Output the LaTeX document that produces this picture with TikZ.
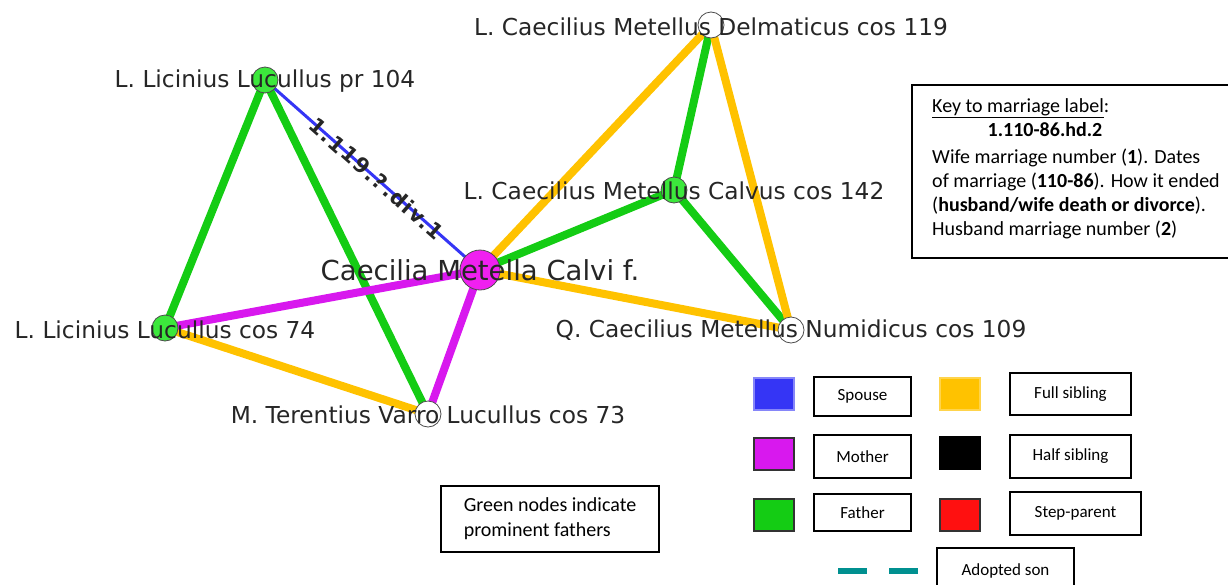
\documentclass[tikz,border=0pt]{standalone}
\usepackage{fontspec}
\setmainfont{Carlito}
\newfontfamily\netfont{DejaVu Sans}
\newfontfamily\marrfont[LetterSpace=8]{DejaVu Sans}
\definecolor{spouseblue}{HTML}{3535F5}
\definecolor{fathergreen}{HTML}{14CC14}
\definecolor{mothermag}{HTML}{D818EE}
\definecolor{sibyellow}{HTML}{FFC200}
\definecolor{nodegreen}{HTML}{3CE83C}
\definecolor{nodemag}{HTML}{F020F0}
\definecolor{stepred}{HTML}{FF1010}
\definecolor{adoptteal}{HTML}{009090}
\pgfdeclarelayer{edges}
\pgfsetlayers{edges,main}
\begin{document}
\begin{tikzpicture}[x=1pt,y=-1pt,
  person/.style={circle,draw=black!70,line width=0.8pt,minimum size=26pt,inner sep=0pt},
  prominent/.style={person,fill=nodegreen},
  plain/.style={person,fill=white},
  focus/.style={person,fill=nodemag,minimum size=40pt},
  namelab/.style={font=\netfont\fontsize{23.3}{28}\selectfont,text=black!85,inner sep=0pt},
  rel/.style={line width=8pt},
  father/.style={rel,draw=fathergreen},
  mother/.style={rel,draw=mothermag},
  sibling/.style={rel,draw=sibyellow},
  spouse/.style={line width=3pt,draw=spouseblue},
  keybox/.style={draw=black,line width=1.2pt,font=\fontsize{17}{20}\selectfont,inner sep=0pt},
  swatch/.style={minimum width=40pt,minimum height=32pt,inner sep=0pt,line width=1.2pt},
  keyline/.style={font=\fontsize{20}{24}\selectfont,inner sep=0pt}
]
\useasboundingbox (0,0) rectangle (1228,584);

% people
\node[plain]     (del) at (711,25)  {};
\node[prominent] (lpr) at (265,80)  {};
\node[prominent] (cal) at (674,190) {};
\node[focus]     (cm)  at (480,270) {};
\node[prominent] (lco) at (165,328) {};
\node[plain]     (num) at (791,330) {};
\node[plain]     (var) at (428,414) {};

% relationships, kept beneath the circles
\begin{pgfonlayer}{edges}
\draw[father]  (lpr.center) -- (lco.center);
\draw[father]  (lpr.center) -- (var.center);
\draw[sibling] (lco.center) -- (var.center);
\draw[mother]  (cm.center) -- (lco.center);
\draw[mother]  (cm.center) -- (var.center);
\draw[sibling] (cm.center) -- (del.center);
\draw[father]  (cm.center) -- (cal.center);
\draw[sibling] (cm.center) -- (num.center);
\draw[father]  (cal.center) -- (del.center);
\draw[father]  (cal.center) -- (num.center);
\draw[sibling] (del.center) -- (num.center);
\draw[spouse]  (lpr.center) -- (cm.center);
\end{pgfonlayer}
\path (lpr.center) -- node[sloped,pos=0.52,font=\marrfont\bfseries\fontsize{21}{24}\selectfont,inner sep=0pt,text=black!85] (mlab) {1.119.?.div.1} (cm.center);

% names
\node[namelab] (delL) at (711,27)  {L. Caecilius Metellus Delmaticus cos 119};
\node[namelab] (lprL) at (265,81)  {L. Licinius Lucullus pr 104};
\node[namelab] (calL) at (674,191) {L. Caecilius Metellus Calvus cos 142};
\node[namelab,font=\netfont\fontsize{27.5}{32}\selectfont] (cmL) at (480,270) {Caecilia Metella Calvi f.};
\node[namelab] (lcoL) at (165,330) {L. Licinius Lucullus cos 74};
\node[namelab] (numL) at (791,330) {Q. Caecilius Metellus Numidicus cos 109};
\node[namelab] (varL) at (428,415) {M. Terentius Varro Lucullus cos 73};

% key to marriage label
\draw[line width=1.2pt] (912,85) rectangle (1240,258);
\node[keyline,anchor=base west] (k1) at (932,112) {\underline{Key to marriage label}:};
\node[keyline,anchor=base] (k2) at (1045,136) {\textbf{1.110-86.hd.2}};
\node[keyline,anchor=base west] (k3) at (932,163) {Wife marriage number (\textbf{1}). Dates};
\node[keyline,anchor=base west] (k4) at (932,187) {of marriage (\textbf{110-86}). How it ended};
\node[keyline,anchor=base west] (k5) at (932,211) {(\textbf{husband/wife death or divorce}).};
\node[keyline,anchor=base west] (k6) at (932,235) {Husband marriage number (\textbf{2})};

% colour legend
\node[swatch,fill=spouseblue,draw=spouseblue!60] (sw1) at (774,394) {};
\node[keybox,minimum width=97pt,minimum height=39pt] (lb1) at (862.5,396.5) {Spouse};
\node[swatch,fill=sibyellow,draw=sibyellow!70] (sw2) at (960,394) {};
\node[keybox,minimum width=121pt,minimum height=42pt] (lb2) at (1070.5,394) {Full sibling};
\node[swatch,fill=mothermag,draw=black!80] (sw3) at (774,454) {};
\node[keybox,minimum width=97pt,minimum height=43pt] (lb3) at (862.5,456.5) {Mother};
\node[swatch,fill=black,draw=black] (sw4) at (960,453) {};
\node[keybox,minimum width=121pt,minimum height=43pt] (lb4) at (1070.5,456.5) {Half sibling};
\node[swatch,fill=fathergreen,draw=black!80] (sw5) at (774,515) {};
\node[keybox,minimum width=97pt,minimum height=37pt] (lb5) at (862.5,512.5) {Father};
\node[swatch,fill=stepred,draw=black!80] (sw6) at (960,515) {};
\node[keybox,minimum width=131pt,minimum height=43pt] (lb6) at (1075.5,513.5) {Step-parent};
\coordinate (ad1) at (838,571);
\coordinate (ad2) at (918,571);
\draw[adoptteal,line width=6pt,dash pattern=on 29pt off 22pt] (ad1) -- (ad2);
\node[keybox,minimum width=137pt,minimum height=46pt] (lb7) at (1005.5,571) {Adopted son};

% note on node colours
\node[draw=black,line width=1.2pt,minimum width=218pt,minimum height=66pt,align=left,
      font=\fontsize{20}{25}\selectfont] (note) at (550,519) {Green nodes indicate\\prominent fathers};
\end{tikzpicture}
\end{document}
